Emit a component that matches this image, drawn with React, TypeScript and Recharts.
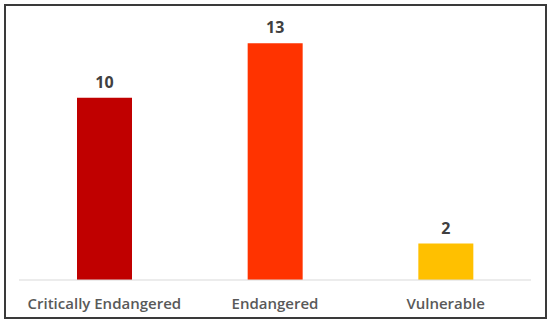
import React from "react";
import { BarChart, Bar, XAxis, YAxis, Cell, LabelList } from "recharts";

const categories: string[] = ["Critically Endangered", "Endangered", "Vulnerable"];
const counts: number[] = [10, 13, 2];
const barColors: string[] = ["#C00000", "#FF3300", "#FFC000"];

const data = categories.map((name, i) => ({ name, count: counts[i] }));

const FONT = "'Open Sans', 'Noto Sans', sans-serif";

const App: React.FC = () => {
  return (
    <div style={{ position: "absolute", left: 0, top: 0, width: 550, height: 325, background: "#fff" }}>
      <div
        style={{
          position: "absolute",
          left: 4,
          top: 4,
          width: 539,
          height: 311,
          border: "2px solid #3a3a3a",
        }}
      />
      <BarChart
        width={550}
        height={325}
        data={data}
        margin={{ top: 25, right: 19, left: 19, bottom: 0 }}
        barCategoryGap={58}
        style={{ position: "absolute", left: 0, top: 0, fontFamily: FONT }}
      >
        <XAxis
          dataKey="name"
          height={45}
          axisLine={{ stroke: "#d9d9d9" }}
          tickLine={false}
          tickMargin={12}
          tick={{ fill: "#595959", fontSize: 15, fontWeight: 600, fontFamily: FONT }}
        />
        <YAxis hide domain={[0, 14]} />
        <Bar dataKey="count" isAnimationActive={false}>
          {data.map((d, i) => (
            <Cell key={d.name} fill={barColors[i]} />
          ))}
          <LabelList
            dataKey="count"
            position="top"
            offset={10}
            fill="#404040"
            fontSize={16}
            fontWeight={700}
            fontFamily={FONT}
          />
        </Bar>
      </BarChart>
    </div>
  );
};

export default App;
